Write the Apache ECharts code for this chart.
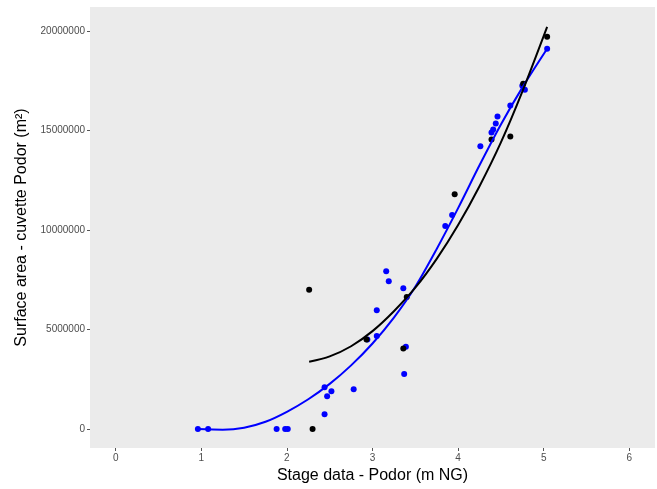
<!DOCTYPE html>
<html>
<head>
<meta charset="utf-8">
<script src="https://cdn.jsdelivr.net/npm/echarts@6/dist/echarts.min.js"></script>
<style>
html,body{margin:0;padding:0;background:#fff;}
#c{width:657px;height:489px;}
</style>
</head>
<body>
<div id="c"></div>
<script>
// Observations: stage (m NG) vs surface area (m²)
const blueX = [0.96,1.08,1.88,1.98,2.01,2.44,2.52,2.47,2.44,2.78,2.94,3.05,3.05,3.16,3.19,3.36,3.39,3.37,3.85,3.93,4.26,4.39,4.41,4.44,4.46,4.61,4.75,4.78,5.04];
const blueY = [0,0,0,0,0,2100000,1900000,1650000,750000,2000000,4500000,4680000,5970000,7930000,7430000,7080000,4130000,2770000,10200000,10750000,14200000,14900000,15050000,15350000,15700000,16250000,17250000,17050000,19100000];
const blackX = [2.26,2.30,2.93,3.36,3.40,3.96,4.39,4.61,4.76,5.04];
const blackY = [7000000,0,4500000,4050000,6630000,11800000,14550000,14700000,17350000,19700000];
// Fitted curves
const blueFitX = [0.96,1.25,1.5,1.75,2.0,2.25,2.5,2.75,3.0,3.25,3.5,3.75,4.0,4.25,4.5,4.75,5.04];
const blueFitY = [0,-30000,70000,370000,870000,1500000,2270000,3200000,4300000,5600000,7150000,9050000,11100000,13250000,15300000,17150000,19100000];
const blackFitX = [2.26,2.5,2.75,3.0,3.25,3.5,3.75,4.0,4.25,4.5,4.75,5.04];
const blackFitY = [3380000,3650000,4160000,4920000,5920000,7100000,8550000,10250000,12200000,14400000,16950000,20200000];
// Axis ticks
const xTicks = [0,1,2,3,4,5,6];
const yTicks = [0,5000000,10000000,15000000,20000000];

const zip = (a,b) => a.map((v,i)=>[v,b[i]]);
const font = 'Liberation Sans, Arial, sans-serif';

const chart = echarts.init(document.getElementById('c'), null, {renderer:'canvas'});
chart.setOption({
  animation:false,
  grid:{left:90,right:2,top:7,bottom:39,show:true,backgroundColor:'#ebebeb',borderWidth:0},
  xAxis:{
    type:'value',min:-0.3,max:6.3,
    name:'Stage data - Podor (m NG)',nameLocation:'middle',nameGap:20,
    nameTextStyle:{fontFamily:font,fontSize:16,color:'#000'},
    axisLine:{show:false,onZero:false},
    axisTick:{show:true,length:3,lineStyle:{color:'#555'},customValues:xTicks},
    axisLabel:{fontFamily:font,fontSize:10,color:'#4d4d4d',margin:5,customValues:xTicks,formatter:v=>String(v)},
    splitLine:{show:false}
  },
  yAxis:{
    type:'value',min:-950000,max:21200000,
    name:'Surface area - cuvette Podor (m²)',nameLocation:'middle',nameGap:60,
    nameTextStyle:{fontFamily:font,fontSize:16,color:'#000'},
    axisLine:{show:false,onZero:false},
    axisTick:{show:true,length:3,lineStyle:{color:'#555'},customValues:yTicks},
    axisLabel:{fontFamily:font,fontSize:10,color:'#4d4d4d',margin:5,customValues:yTicks,formatter:v=>String(Math.round(v))},
    splitLine:{show:false}
  },
  series:[
    {type:'scatter',data:zip(blueX,blueY),symbolSize:6,itemStyle:{color:'#0000ff',opacity:1},z:2},
    {type:'scatter',data:zip(blackX,blackY),symbolSize:6,itemStyle:{color:'#000000',opacity:1},z:2},
    {type:'line',data:zip(blueFitX,blueFitY),smooth:0.3,showSymbol:false,lineStyle:{color:'#0000ff',width:2},z:3},
    {type:'line',data:zip(blackFitX,blackFitY),smooth:0.3,showSymbol:false,lineStyle:{color:'#000000',width:2},z:3}
  ]
});
</script>
</body>
</html>
